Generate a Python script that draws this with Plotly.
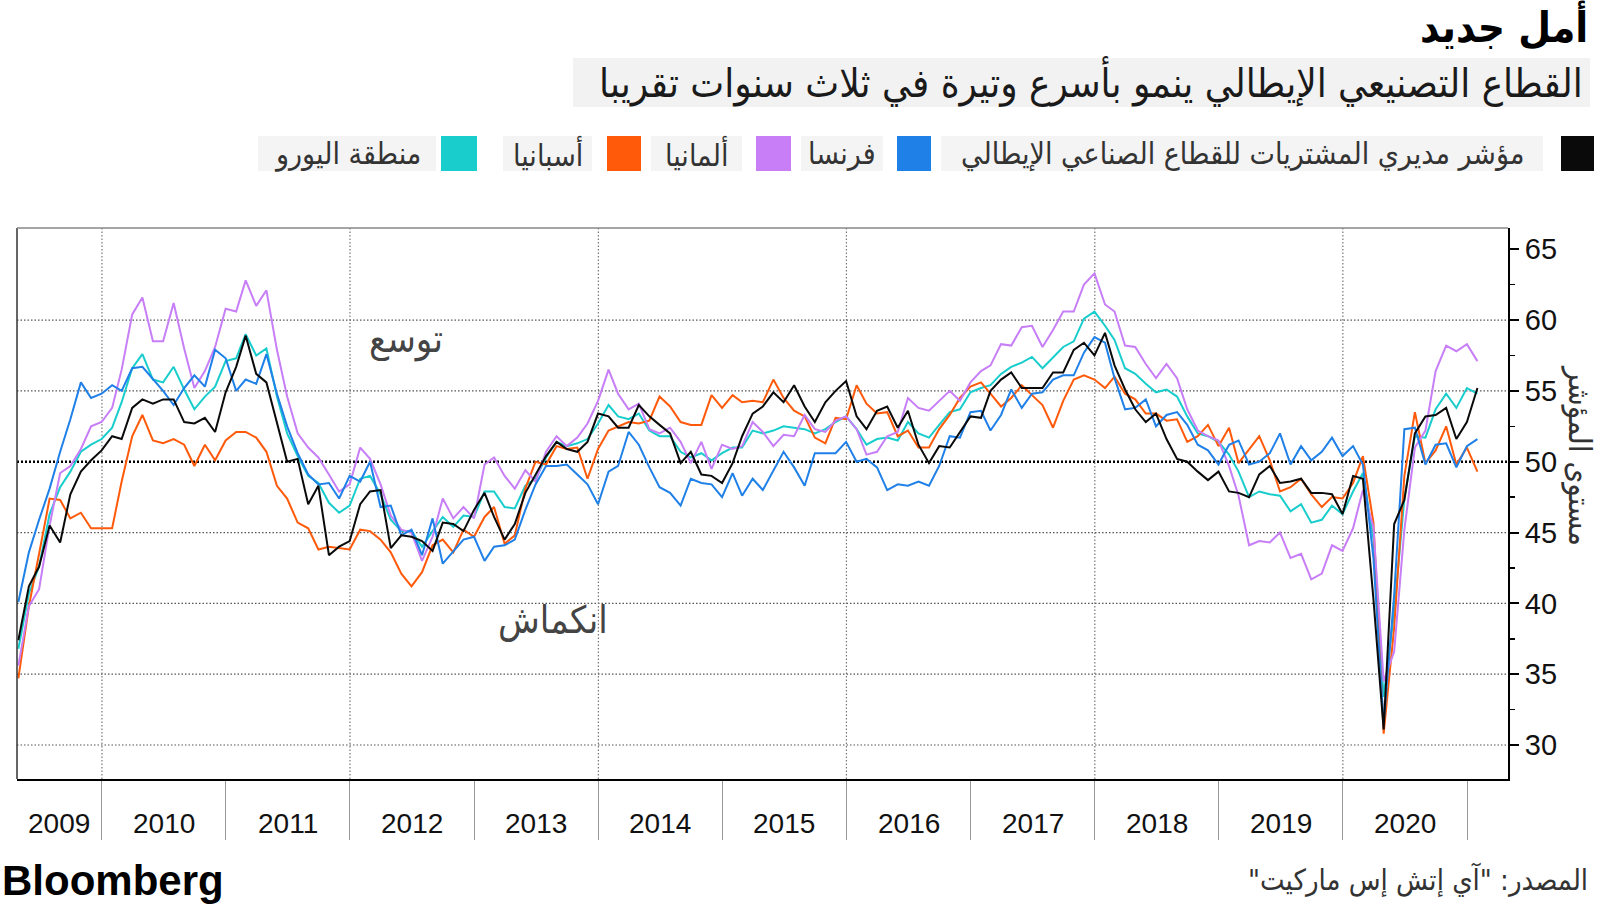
import pandas as pd
import plotly.graph_objects as go

# ---------------- data (monthly, Apr 2009 - Jan 2021) ----------------
start_month = "2009-04-30"
n_points = 142

italy = [
    37.4, 41.2, 42.6, 45.5, 44.3, 47.7, 49.3, 50.1, 50.8,
    51.8, 51.6, 53.8, 54.4, 54.1, 54.4, 54.4, 52.8, 52.7, 53.1, 52.1, 54.9,
    56.7, 58.9, 56.2, 55.6, 52.8, 50.0, 50.2, 47.0, 48.3, 43.4, 44.0, 44.4,
    47.0, 47.9, 48.0, 43.9, 44.8, 44.7, 44.4, 43.7, 45.7, 45.6, 45.1, 46.6,
    47.8, 46.1, 44.5, 45.6, 47.8, 49.1, 50.4, 51.4, 50.9, 50.7, 51.4, 53.4,
    53.2, 52.4, 52.4, 54.0, 53.2, 52.6, 52.0, 49.9, 50.7, 49.1, 49.0, 48.5,
    49.9, 51.8, 53.4, 53.9, 54.9, 54.2, 55.4, 53.9, 52.8, 54.2, 55.0, 55.7,
    53.2, 52.3, 53.6, 53.9, 52.4, 53.6, 51.2, 49.9, 51.1, 51.0, 52.1, 53.2,
    53.1, 55.0, 55.8, 56.3, 55.2, 55.2, 55.2, 56.3, 56.3, 57.9, 58.4, 57.5,
    59.1, 56.8, 55.1, 53.7, 52.8, 53.4, 51.6, 50.2, 50.0, 49.3, 48.7, 49.3,
    47.9, 47.8, 47.5, 49.1, 49.7, 48.5, 48.6, 48.8, 47.8, 47.8, 47.7, 46.3,
    49.0, 48.8, 40.3, 31.1, 45.6, 47.3, 52.0, 53.2, 53.3, 53.8, 51.6, 52.8,
    55.2,
]
france = [
    40.1, 43.6, 45.9, 48.1, 50.7, 53.0, 55.6, 54.5, 54.8,
    55.4, 55.0, 56.6, 56.7, 55.8, 55.0, 54.0, 55.2, 56.1, 55.3, 57.9, 57.3,
    55.0, 55.8, 55.5, 57.6, 54.8, 52.5, 50.6, 49.1, 48.4, 48.5, 47.4, 49.0,
    48.6, 50.0, 46.8, 46.9, 44.8, 45.2, 43.4, 46.0, 42.8, 43.7, 44.5, 44.7,
    43.0, 44.0, 44.1, 44.5, 46.6, 48.4, 49.7, 49.7, 49.8, 49.1, 48.4, 47.0,
    49.3, 49.7, 52.1, 51.2, 49.6, 48.2, 47.8, 46.9, 48.8, 48.5, 48.4, 47.5,
    49.2, 47.6, 48.8, 48.0, 49.4, 50.7, 49.6, 48.3, 50.6, 50.6, 50.6, 51.4,
    50.0, 50.2, 49.6, 48.0, 48.4, 48.3, 48.6, 48.3, 49.7, 51.8, 51.7, 53.5,
    53.6, 52.2, 53.3, 55.1, 53.8, 54.8, 54.9, 55.8, 56.1, 56.1, 57.7, 58.8,
    58.4, 55.9, 53.7, 53.8, 54.4, 52.5, 53.3, 53.5, 52.6, 51.2, 50.8, 49.8,
    51.2, 51.5, 49.8, 50.0, 50.6, 52.0, 49.8, 51.1, 50.1, 50.7, 51.7, 50.4,
    51.1, 49.8, 43.2, 31.5, 40.6, 52.3, 52.4, 49.8, 51.2, 51.3, 49.6, 51.1,
    51.6,
]
germany = [
    35.6, 39.8, 41.0, 45.5, 49.2, 49.7, 50.9, 52.5, 52.8,
    53.8, 56.5, 60.4, 61.6, 58.5, 58.5, 61.2, 58.0, 55.2, 56.4, 58.1, 60.8,
    60.6, 62.8, 61.0, 62.1, 57.9, 54.6, 52.0, 51.0, 50.3, 49.1, 47.9, 48.4,
    51.0, 50.2, 48.4, 46.2, 45.2, 45.0, 43.0, 44.7, 47.4, 46.0, 46.8, 46.0,
    49.8, 50.3, 49.0, 48.1, 49.4, 48.6, 50.7, 51.8, 51.1, 51.7, 52.7, 54.3,
    56.5, 54.8, 53.7, 54.1, 52.3, 52.0, 52.4, 51.4, 49.9, 51.4, 49.5, 51.2,
    50.9, 51.1, 52.8, 52.1, 51.1, 51.9, 51.8, 53.3, 52.3, 52.1, 52.9, 53.2,
    52.3, 50.5, 50.7, 51.8, 52.1, 54.5, 53.8, 53.6, 54.3, 55.0, 54.3, 55.6,
    56.4, 56.8, 58.3, 58.2, 59.5, 59.6, 58.1, 59.3, 60.6, 60.6, 62.5, 63.3,
    61.1, 60.6, 58.2, 58.1, 56.9, 55.9, 56.9, 55.9, 53.7, 52.2, 51.8, 51.5,
    49.7, 47.6, 44.1, 44.4, 44.3, 45.0, 43.2, 43.5, 41.7, 42.1, 44.1, 43.7,
    45.3, 48.0, 45.4, 34.5, 36.6, 45.2, 51.0, 52.2, 56.4, 58.2, 57.8, 58.3,
    57.1,
]
spain = [
    34.7, 39.8, 43.5, 47.4, 47.3, 46.0, 46.4, 45.3, 45.3,
    45.3, 48.6, 51.8, 53.3, 51.5, 51.3, 51.6, 51.2, 49.7, 51.2, 50.1, 51.5,
    52.1, 52.1, 51.7, 50.7, 48.3, 47.4, 45.7, 45.3, 43.8, 44.0, 43.9, 43.8,
    45.2, 45.1, 44.5, 43.6, 42.1, 41.2, 42.2, 44.1, 44.5, 43.6, 45.2, 44.7,
    46.1, 46.8, 44.2, 44.8, 48.1, 50.0, 49.8, 51.1, 50.9, 51.0, 48.8, 50.9,
    52.2, 52.5, 52.8, 52.7, 52.9, 54.6, 53.9, 52.8, 52.6, 52.6, 54.7, 53.8,
    54.7, 54.2, 54.3, 54.2, 55.8, 54.5, 53.6, 53.2, 51.7, 51.3, 53.1, 53.0,
    55.4, 54.1, 53.4, 53.5, 51.8, 52.2, 51.0, 51.0, 52.3, 53.3, 54.5, 55.3,
    55.6, 54.8, 53.9, 54.5, 55.4, 54.7, 54.0, 52.4, 54.3, 55.8, 56.1, 55.8,
    55.2, 56.0, 54.8, 54.4, 53.4, 53.4, 52.9, 53.0, 51.4, 51.8, 52.6, 51.1,
    52.4, 49.9, 50.9, 51.8, 50.1, 47.9, 48.2, 48.8, 47.7, 46.8, 47.5, 47.4,
    48.5, 50.4, 45.7, 30.8, 38.3, 49.0, 53.5, 49.9, 50.8, 52.5, 49.8, 51.0,
    49.3,
]
eurozone = [
    36.8, 40.7, 42.6, 46.3, 48.2, 49.3, 50.7, 51.2, 51.6,
    52.4, 54.2, 56.6, 57.6, 55.8, 55.6, 56.7, 55.1, 53.7, 54.6, 55.3, 57.1,
    57.3, 59.0, 57.5, 58.0, 54.6, 52.0, 50.4, 49.0, 48.5, 47.1, 46.4, 46.9,
    48.8, 49.0, 47.7, 45.9, 45.1, 45.1, 44.0, 45.1, 46.1, 45.4, 46.2, 46.1,
    47.9, 47.9, 46.8, 46.7, 48.3, 48.8, 50.3, 51.4, 51.1, 51.3, 51.6, 52.7,
    54.0, 53.2, 53.0, 53.4, 52.2, 51.8, 51.8, 50.7, 50.3, 50.6, 50.1, 50.6,
    51.0, 51.0, 52.2, 52.0, 52.2, 52.5, 52.4, 52.3, 52.0, 52.3, 52.8, 53.2,
    52.3, 51.2, 51.6, 51.7, 51.5, 52.8, 52.0, 51.7, 52.6, 53.5, 53.7, 54.9,
    55.2, 55.4, 56.2, 56.7, 57.0, 57.4, 56.6, 57.4, 58.1, 58.5, 60.1, 60.6,
    59.6, 58.6, 56.6, 56.2, 55.5, 54.9, 55.1, 54.6, 53.2, 52.0, 51.8, 51.4,
    50.5, 49.3, 47.5, 47.9, 47.7, 47.6, 46.5, 47.0, 45.7, 45.9, 46.9, 46.3,
    47.9, 49.2, 44.5, 33.4, 39.4, 47.4, 51.8, 51.7, 53.7, 54.8, 53.8, 55.2,
    54.8,
]

series_names = [
    "مؤشر مديري المشتريات للقطاع الصناعي الإيطالي",
    "فرنسا",
    "ألمانيا",
    "أسبانيا",
    "منطقة اليورو",
]
series_colors = ["#0a0a0a", "#1f80e8", "#c77ef7", "#ff5a0a", "#19cdcd"]

year_labels = [str(y) for y in range(2009, 2021)]
y_ticks = [30, 35, 40, 45, 50, 55, 60, 65]
y_grid = [30, 35, 40, 45, 55, 60]
x_grid_years = [2010, 2012, 2014, 2016, 2018, 2020]
x_tick_years = list(range(2010, 2022))

RLM = "\u200f"
title = "أمل جديد"
subtitle = "القطاع التصنيعي الإيطالي ينمو بأسرع وتيرة في ثلاث سنوات تقريبا"
y_title = "مستوى المؤشر"
label_up = "توسع"
label_down = "انكماش"
source = RLM + "المصدر: \"آي إتش إس ماركيت\"" + RLM

# ---------------- layout geometry (pixels) ----------------
W, H = 1600, 917
L, R, T, B = 17, 1508, 228, 779
x_range = ["2009-04-26", "2021-05-01"]
y_range = [27.6, 66.5]

AR = "DejaVu Sans Condensed, DejaVu Sans, sans-serif"
LAT = "Liberation Sans, Arial, sans-serif"


def px(x):
    return (x - L) / (R - L)


def py(y):
    return (B - y) / (B - T)


dates = pd.date_range(start_month, periods=n_points, freq=pd.offsets.MonthEnd())

fig = go.Figure()
order = [4, 3, 2, 1, 0]
all_series = [italy, france, germany, spain, eurozone]
for i in order:
    fig.add_trace(go.Scatter(
        x=dates, y=all_series[i], mode="lines", name=series_names[i],
        line=dict(color=series_colors[i], width=2), showlegend=False,
    ))

shapes = []
# horizontal grid
for v in y_grid:
    shapes.append(dict(type="line", xref="paper", yref="y", x0=0, x1=1, y0=v, y1=v,
                       line=dict(color="#555555", width=1.2, dash="1.5px,2px"), layer="below"))
shapes.append(dict(type="line", xref="paper", yref="y", x0=0, x1=1, y0=50, y1=50,
                   line=dict(color="#000000", width=2.5, dash="2px,2px"), layer="below"))
# vertical grid
for yr in x_grid_years:
    d = f"{yr}-01-01"
    shapes.append(dict(type="line", xref="x", yref="paper", x0=d, x1=d, y0=0, y1=1,
                       line=dict(color="#777777", width=1.2, dash="1.5px,2px"), layer="below"))
# frame left/top
shapes.append(dict(type="line", xref="paper", yref="paper", x0=0, x1=0, y0=0, y1=1,
                   line=dict(color="#333333", width=1.5)))
shapes.append(dict(type="line", xref="paper", yref="paper", x0=0, x1=1, y0=1, y1=1,
                   line=dict(color="#888888", width=1.5)))

annotations = []

# title & subtitle
annotations.append(dict(xref="paper", yref="paper", x=px(1590), y=py(26), xanchor="right",
                        yanchor="middle", showarrow=False, text="<b>" + title + "</b>",
                        font=dict(family=AR, size=42, color="#000000")))
shapes.append(dict(type="rect", xref="paper", yref="paper", x0=px(573), x1=px(1590),
                   y0=py(107), y1=py(58), fillcolor="#f2f2f2", line=dict(width=0), layer="below"))
annotations.append(dict(xref="paper", yref="paper", x=px(1585), y=py(82), xanchor="right",
                        yanchor="middle", showarrow=False, text=subtitle,
                        font=dict(family=AR, size=40, color="#1a1a1a")))

# legend (custom, right-to-left)
leg_y0, leg_y1 = 136, 171
swatches = [(1561, 1594), (897, 931), (756, 791), (607, 641), (441, 477)]
boxes = [(941, 1543), (801, 883), (651, 742), (503, 592), (258, 436)]
for i in range(5):
    sx0, sx1 = swatches[i]
    shapes.append(dict(type="rect", xref="paper", yref="paper", x0=px(sx0), x1=px(sx1),
                       y0=py(leg_y1), y1=py(leg_y0), fillcolor=series_colors[i],
                       line=dict(width=0)))
    bx0, bx1 = boxes[i]
    shapes.append(dict(type="rect", xref="paper", yref="paper", x0=px(bx0), x1=px(bx1),
                       y0=py(leg_y1), y1=py(leg_y0), fillcolor="#f4f4f4",
                       line=dict(width=0), layer="below"))
    annotations.append(dict(xref="paper", yref="paper", x=px((bx0 + bx1) / 2),
                            y=py((leg_y0 + leg_y1) / 2), xanchor="center", yanchor="middle",
                            showarrow=False, text=series_names[i],
                            font=dict(family=AR, size=30, color="#333333")))

# year labels
mid_2009 = pd.Timestamp(x_range[0]) + (pd.Timestamp("2010-01-01") - pd.Timestamp(x_range[0])) / 2
for lab in year_labels:
    if lab == "2009":
        xd = mid_2009
    else:
        xd = pd.Timestamp(f"{lab}-07-02")
    annotations.append(dict(xref="x", yref="paper", x=xd, y=py(823), xanchor="center",
                            yanchor="middle", showarrow=False, text=lab,
                            font=dict(family=LAT, size=28, color="#111111")))

# in-chart labels
annotations.append(dict(xref="x", yref="y", x="2012-06-15", y=58.6, showarrow=False,
                        text=label_up, font=dict(family=AR, size=38, color="#444444")))
annotations.append(dict(xref="x", yref="y", x="2013-08-20", y=38.8, showarrow=False,
                        text=label_down, font=dict(family=AR, size=38, color="#444444")))

# y-axis title (rotated clockwise)
annotations.append(dict(xref="paper", yref="paper", x=px(1580), y=py(455), showarrow=False,
                        textangle=90, text=y_title, xanchor="center", yanchor="middle",
                        font=dict(family=AR, size=31, color="#333333")))

# footer
annotations.append(dict(xref="paper", yref="paper", x=px(0), y=py(880), xanchor="left",
                        yanchor="middle", showarrow=False, text="<b>Bloomberg</b>",
                        font=dict(family=LAT, size=42, color="#000000")))
annotations.append(dict(xref="paper", yref="paper", x=px(1590), y=py(880), xanchor="right",
                        yanchor="middle", showarrow=False, text=source,
                        font=dict(family=AR, size=29, color="#333333")))

fig.update_layout(
    width=W, height=H, autosize=False,
    margin=dict(l=L, r=W - R, t=T, b=H - B, pad=0),
    paper_bgcolor="white", plot_bgcolor="white",
    showlegend=False, hovermode=False,
    shapes=shapes, annotations=annotations,
    xaxis=dict(
        type="date", range=x_range, showgrid=False, zeroline=False,
        tickvals=[f"{y}-01-01" for y in x_tick_years], showticklabels=False,
        ticks="outside", ticklen=59, tickwidth=1, tickcolor="#999999",
        showline=True, linecolor="#000000", linewidth=2,
    ),
    yaxis=dict(
        side="right", range=y_range, showgrid=False, zeroline=False,
        tickvals=y_ticks, ticks="outside", ticklen=9, tickwidth=2, tickcolor="#000000",
        tickfont=dict(family=LAT, size=29, color="#111111"),
        showline=True, linecolor="#000000", linewidth=2,
        minor=dict(dtick=2.5, tick0=27.5, ticks="outside", ticklen=5, tickwidth=1.5,
                   tickcolor="#000000", showgrid=False),
    ),
)

fig.write_html(
    "out.html",
    config={"displayModeBar": False, "staticPlot": True},
    post_script="document.body.style.margin='0px';document.body.style.padding='0px';",
)
